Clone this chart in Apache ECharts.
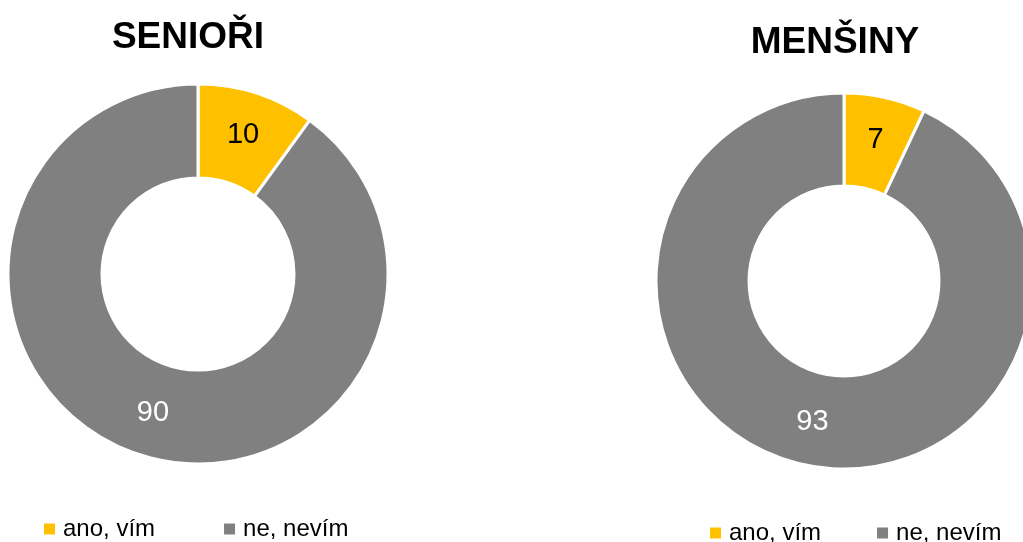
<!DOCTYPE html>
<html>
<head>
<meta charset="utf-8">
<script src="https://cdn.jsdelivr.net/npm/echarts@6/dist/echarts.min.js"></script>
<style>
  html, body { margin: 0; padding: 0; background: #fff; }
  #chart { width: 1023px; height: 542px; }
</style>
</head>
<body>
<div id="chart"></div>
<script>
// data
const categories = ['ano, vím', 'ne, nevím']
const seniori = [10, 90]
const mensiny = [7, 93]
const titles = ['SENIOŘI', 'MENŠINY']
const colors = ['#FFC000', '#808080']
const labelColors = ['#000', '#fff']

const chart = echarts.init(document.getElementById('chart'))

function makeData (values) {
  return values.map((v, i) => ({
    name: categories[i],
    value: v,
    itemStyle: { color: colors[i] },
    label: { color: labelColors[i] }
  }))
}

function donut (values, cx, cy, inner, outer) {
  return {
    type: 'pie',
    center: [cx, cy],
    radius: [inner, outer],
    startAngle: 90,
    clockwise: true,
    avoidLabelOverlap: false,
    silent: true,
    itemStyle: { borderColor: '#fff', borderWidth: 3 },
    label: {
      show: true,
      position: 'inside',
      formatter: '{c}',
      fontSize: 29,
      fontFamily: 'Liberation Sans, Arial'
    },
    labelLine: { show: false },
    data: makeData(values)
  }
}

const legendBase = {
  data: categories,
  icon: 'rect',
  itemWidth: 11,
  itemHeight: 11,
  itemStyle: { borderWidth: 0 },
  textStyle: {
    fontSize: 24,
    color: '#000',
    fontFamily: 'Liberation Sans, Arial',
    padding: [0, 0, 0, 3]
  }
}

const titleStyle = { fontSize: 37, fontWeight: 'bold', color: '#000', fontFamily: 'Liberation Sans, Arial' }

const option = {
  animation: false,
  title: [
    { text: titles[0], left: 183, top: 14, textAlign: 'center', textStyle: titleStyle },
    { text: titles[1], left: 830, top: 19, textAlign: 'center', textStyle: titleStyle }
  ],
  legend: [
    Object.assign({}, legendBase, { left: 39, top: 512, itemGap: 69 }),
    Object.assign({}, legendBase, { left: 705, top: 516, itemGap: 56 })
  ],
  series: [
    donut(seniori, 198, 274, 96, 190),
    donut(mensiny, 844, 281, 95, 188)
  ]
}

chart.setOption(option)
</script>
</body>
</html>
